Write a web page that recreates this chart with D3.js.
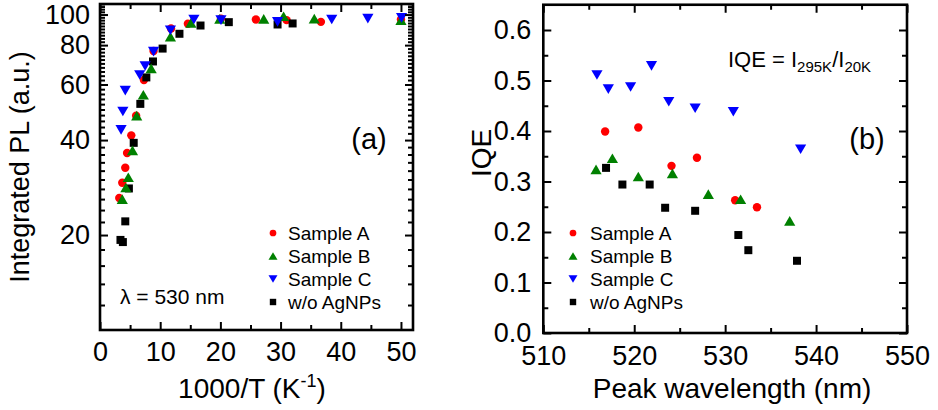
<!DOCTYPE html>
<html>
<head>
<meta charset="utf-8">
<script src="https://cdn.jsdelivr.net/npm/d3@7"></script>
<style>
  body { margin: 0; background: #fff; }
  text { font-family: "Liberation Sans", Arial, sans-serif; fill: #000; }
</style>
</head>
<body>
<div id="chart"></div>
<script>
// ---- panel (a): integrated PL vs 1000/T (log y) ----
var plA_x = [3.2, 3.7, 4.2, 4.5, 5.2, 6.0, 7.3, 8.9, 11.8, 14.6, 20.1, 25.9, 31.0, 36.7, 50.0];
var plA_y = [26.2, 29.3, 32.7, 36.4, 41.4, 47.8, 62.0, 76.6, 90.3, 93.5, 97.1, 96.4, 96.0, 94.8, 96.4];
var plB_x = [3.7, 4.3, 4.7, 5.4, 6.1, 7.2, 8.5, 11.7, 15.1, 19.9, 27.2, 30.5, 35.6, 50.0];
var plB_y = [26.0, 28.3, 30.5, 37.1, 47.8, 55.7, 67.5, 85.1, 94.1, 96.9, 96.9, 98.8, 97.1, 96.0];
var plC_x = [3.5, 3.8, 4.2, 6.6, 7.5, 8.9, 11.7, 15.6, 20.1, 29.5, 38.5, 44.5, 50.1];
var plC_y = [43.1, 49.3, 57.4, 64.3, 68.7, 76.3, 89.2, 96.4, 96.0, 94.8, 96.4, 97.1, 97.6];
var plRef_x = [3.4, 3.8, 4.2, 4.8, 5.6, 6.7, 7.7, 8.8, 10.4, 13.2, 16.7, 21.4, 29.5, 32.0];
var plRef_y = [19.3, 19.0, 22.1, 28.1, 39.2, 52.1, 63.2, 71.0, 78.0, 86.9, 92.3, 94.6, 93.0, 93.7];
var plXTicks = [0, 10, 20, 30, 40, 50];
var plXMinor = [5, 15, 25, 35, 45];
var plYTicks = [20, 40, 60, 80, 100];
var plYMinor = d3.range(12, 108.1, 2).filter(function(d){ return plYTicks.indexOf(d) < 0; });

// ---- panel (b): IQE vs peak wavelength ----
var iqeA_x = [516.8, 520.45, 524.1, 526.9, 531.1, 533.5];
var iqeA_y = [0.399, 0.407, 0.331, 0.347, 0.263, 0.249];
var iqeB_x = [515.8, 517.6, 520.45, 524.2, 528.15, 531.7, 537.1];
var iqeB_y = [0.324, 0.346, 0.310, 0.316, 0.275, 0.265, 0.222];
var iqeC_x = [515.9, 517.15, 519.6, 521.9, 523.8, 526.7, 530.9, 538.3];
var iqeC_y = [0.511, 0.483, 0.487, 0.529, 0.458, 0.445, 0.438, 0.364];
var iqeRef_x = [516.9, 518.7, 521.7, 523.4, 526.7, 531.45, 532.55, 537.9];
var iqeRef_y = [0.327, 0.294, 0.294, 0.248, 0.242, 0.194, 0.164, 0.143];
var iqeXTicks = [510, 520, 530, 540, 550];
var iqeXMinor = [515, 525, 535, 545];
var iqeYTicks = [0, 0.1, 0.2, 0.3, 0.4, 0.5, 0.6];
var iqeYMinor = [0.05, 0.15, 0.25, 0.35, 0.45, 0.55];

var legendNames = ['Sample A', 'Sample B', 'Sample C', 'w/o AgNPs'];
var legendShapes = ['circle', 'triUp', 'triDown', 'square'];
var legendColors = ['#ff0000', '#008000', '#0000ff', '#000000'];

var svg = d3.select('#chart')
    .append('svg')
    .attr('width', 938)
    .attr('height', 410)
    .style('background-color', '#fff');

// marker path centred on 0,0
function shapePath(shape, k) {
    var w = 5.6 * k, h = 4.8 * k, s = 4 * k;
    if (shape == 'triUp') return 'M' + (-w) + ',' + h + 'L' + w + ',' + h + 'L0,' + (-h) + 'Z';
    if (shape == 'triDown') return 'M' + (-w) + ',' + (-h) + 'L' + w + ',' + (-h) + 'L0,' + h + 'Z';
    if (shape == 'square') return 'M' + (-s) + ',' + (-s) + 'h' + (2*s) + 'v' + (2*s) + 'h' + (-2*s) + 'Z';
    var r = 4.2 * k;
    return 'M' + (-r) + ',0A' + r + ',' + r + ' 0 1,1 ' + r + ',0A' + r + ',' + r + ' 0 1,1 ' + (-r) + ',0Z';
}

function drawSeries(g, x, y, xs, ys, shape, color) {
    g.selectAll(null)
        .data(d3.range(xs.length))
        .enter().append('path')
        .attr('d', shapePath(shape, 1))
        .attr('transform', function(i){ return 'translate(' + x(xs[i]) + ',' + y(ys[i]) + ')'; })
        .attr('fill', color);
}

function styleAxis(sel) {
    sel.select('.domain').remove();
    sel.selectAll('line').attr('stroke', '#000').attr('stroke-width', 2);
    sel.selectAll('text').style('font-size', '27px').attr('fill', '#000');
}

function drawFrame(g, x, y, xt, xm, yt, ym, fmtX, fmtY, padX, padY) {
    var x0 = x.range()[0], x1 = x.range()[1], yb = y.range()[0], yt0 = y.range()[1];
    g.append('g').attr('transform', 'translate(0,' + yb + ')')
        .call(d3.axisBottom(x).tickValues(xt).tickSize(-8).tickPadding(padX).tickFormat(fmtX)).call(styleAxis);
    g.append('g').attr('transform', 'translate(0,' + yb + ')')
        .call(d3.axisBottom(x).tickValues(xm).tickSize(-5).tickFormat('')).call(styleAxis);
    g.append('g').attr('transform', 'translate(0,' + yt0 + ')')
        .call(d3.axisTop(x).tickValues(xt).tickSize(-8).tickFormat('')).call(styleAxis);
    g.append('g').attr('transform', 'translate(0,' + yt0 + ')')
        .call(d3.axisTop(x).tickValues(xm).tickSize(-5).tickFormat('')).call(styleAxis);
    g.append('g').attr('transform', 'translate(' + x0 + ',0)')
        .call(d3.axisLeft(y).tickValues(yt).tickSize(-8).tickPadding(padY).tickFormat(fmtY)).call(styleAxis);
    g.append('g').attr('transform', 'translate(' + x0 + ',0)')
        .call(d3.axisLeft(y).tickValues(ym).tickSize(-5).tickFormat('')).call(styleAxis);
    g.append('g').attr('transform', 'translate(' + x1 + ',0)')
        .call(d3.axisRight(y).tickValues(yt).tickSize(-8).tickFormat('')).call(styleAxis);
    g.append('g').attr('transform', 'translate(' + x1 + ',0)')
        .call(d3.axisRight(y).tickValues(ym).tickSize(-5).tickFormat('')).call(styleAxis);
    g.append('rect')
        .attr('x', x0).attr('y', yt0)
        .attr('width', x1 - x0).attr('height', yb - yt0)
        .attr('fill', 'none').attr('stroke', '#000').attr('stroke-width', 2.6);
}

function drawLegend(g, mx, tx, ys) {
    legendNames.forEach(function(name, i){
        g.append('path')
            .attr('d', shapePath(legendShapes[i], 0.8))
            .attr('transform', 'translate(' + mx + ',' + ys[i] + ')')
            .attr('fill', legendColors[i]);
        g.append('text')
            .attr('x', tx).attr('y', ys[i]).attr('dy', '0.35em')
            .style('font-size', '19px')
            .text(name);
    });
}

var legendRows = [233, 256, 279, 302];

// ---------- panel (a) ----------
var ga = svg.append('g');
var xa = d3.scaleLinear().domain([0, 52]).range([100, 413]);
var ya = d3.scaleLog().domain([10, 108]).range([330, 4]);

drawSeries(ga, xa, ya, plA_x, plA_y, 'circle', legendColors[0]);
drawSeries(ga, xa, ya, plRef_x, plRef_y, 'square', legendColors[3]);
drawSeries(ga, xa, ya, plB_x, plB_y, 'triUp', legendColors[1]);
drawSeries(ga, xa, ya, plC_x, plC_y, 'triDown', legendColors[2]);
drawFrame(ga, xa, ya, plXTicks, plXMinor, plYTicks, plYMinor, d3.format('d'), d3.format('d'), 12, 10);
drawLegend(ga, 273, 288, legendRows);

ga.append('text').attr('x', 120).attr('y', 304).style('font-size', '21px').text('λ = 530 nm');
ga.append('text').attr('x', 369).attr('y', 149).attr('text-anchor', 'middle').style('font-size', '29px').text('(a)');

var xtA = ga.append('text').attr('x', 252).attr('y', 398).attr('text-anchor', 'middle').style('font-size', '28px');
xtA.append('tspan').text('1000/T (K');
xtA.append('tspan').attr('dy', -11).style('font-size', '18px').text('-1');
xtA.append('tspan').attr('dy', 11).text(')');

ga.append('text')
    .attr('transform', 'translate(29,167) rotate(-90)')
    .attr('text-anchor', 'middle')
    .style('font-size', '27px')
    .text('Integrated PL (a.u.)');

// ---------- panel (b) ----------
var gb = svg.append('g');
var xb = d3.scaleLinear().domain([510, 550]).range([543.3, 907]);
var yb = d3.scaleLinear().domain([0, 0.65]).range([333, 4.75]);

drawSeries(gb, xb, yb, iqeA_x, iqeA_y, 'circle', legendColors[0]);
drawSeries(gb, xb, yb, iqeRef_x, iqeRef_y, 'square', legendColors[3]);
drawSeries(gb, xb, yb, iqeB_x, iqeB_y, 'triUp', legendColors[1]);
drawSeries(gb, xb, yb, iqeC_x, iqeC_y, 'triDown', legendColors[2]);
drawFrame(gb, xb, yb, iqeXTicks, iqeXMinor, iqeYTicks, iqeYMinor, d3.format('d'), d3.format('.1f'), 13, 12);
drawLegend(gb, 573, 590, legendRows);

gb.append('text').attr('x', 867).attr('y', 149).attr('text-anchor', 'middle').style('font-size', '29px').text('(b)');

var iq = gb.append('text').attr('x', 728).attr('y', 67).style('font-size', '22px');
iq.append('tspan').text('IQE = I');
iq.append('tspan').attr('dy', 5).style('font-size', '15px').text('295K');
iq.append('tspan').attr('dy', -5).text('/I');
iq.append('tspan').attr('dy', 5).style('font-size', '15px').text('20K');

gb.append('text').attr('x', 732).attr('y', 398).attr('text-anchor', 'middle').style('font-size', '28px').text('Peak wavelength (nm)');

gb.append('text')
    .attr('transform', 'translate(491,153) rotate(-90)')
    .attr('text-anchor', 'middle')
    .style('font-size', '28px')
    .text('IQE');
</script>
</body>
</html>
